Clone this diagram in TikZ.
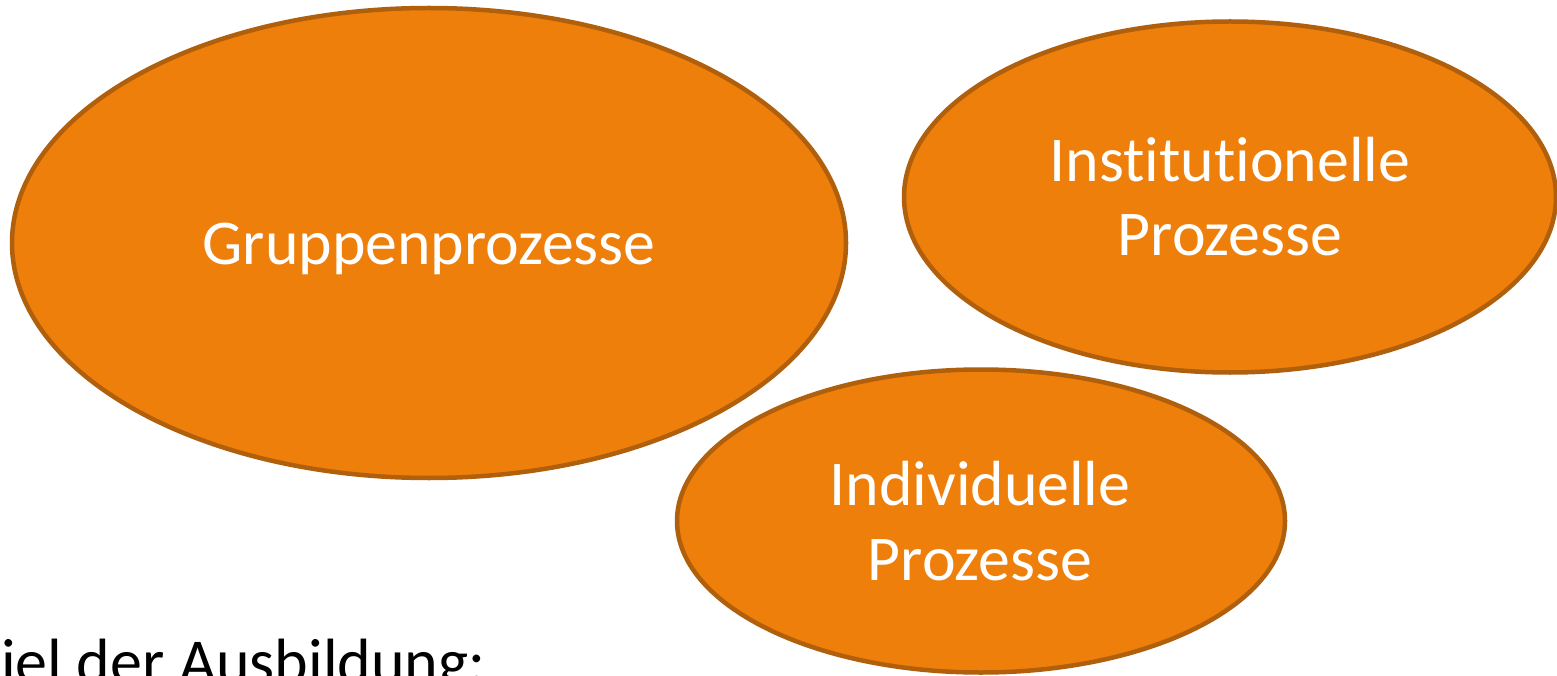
\documentclass[tikz,border=0pt]{standalone}
\usepackage{fontspec}
\setmainfont{Carlito}[Ligatures={NoCommon}]
\usetikzlibrary{shapes.geometric}
\definecolor{procfill}{RGB}{238,127,11}
\definecolor{procedge}{RGB}{176,95,12}
\begin{document}
\begin{tikzpicture}[x=1pt,y=-1pt,
  proc/.style={ellipse,draw=procedge,fill=procfill,line width=4.5pt,inner sep=0pt},
  proctext/.style={anchor=base,text=white,font=\fontsize{63.8}{76}\selectfont,inner sep=0pt},
  plaintext/.style={anchor=base west,text=black,font=\fontsize{64}{76}\selectfont,inner sep=0pt}]
  \useasboundingbox[fill=white] (0,0) rectangle (1557,676);
  % the three process ellipses
  \node[proc,minimum width=834pt,minimum height=470pt] (grp) at (429,243) {};
  \node[proc,minimum width=652pt,minimum height=351pt] (inst) at (1230,197) {};
  \node[proc,minimum width=608pt,minimum height=303pt] (indiv) at (981,521) {};
  % labels
  \node[proctext] (grpA) at (429,265) {Gruppenprozesse};
  \node[proctext] (instA) at (1230,182) {Institutionelle};
  \node[proctext] (instB) at (1230,255) {Prozesse};
  \node[proctext] (indivA) at (980,505) {Individuelle};
  \node[proctext] (indivB) at (980,580) {Prozesse};
  % heading line at the bottom edge
  \node[plaintext] (goal) at (1,683) {iel der Ausbildung:};
\end{tikzpicture}
\end{document}
